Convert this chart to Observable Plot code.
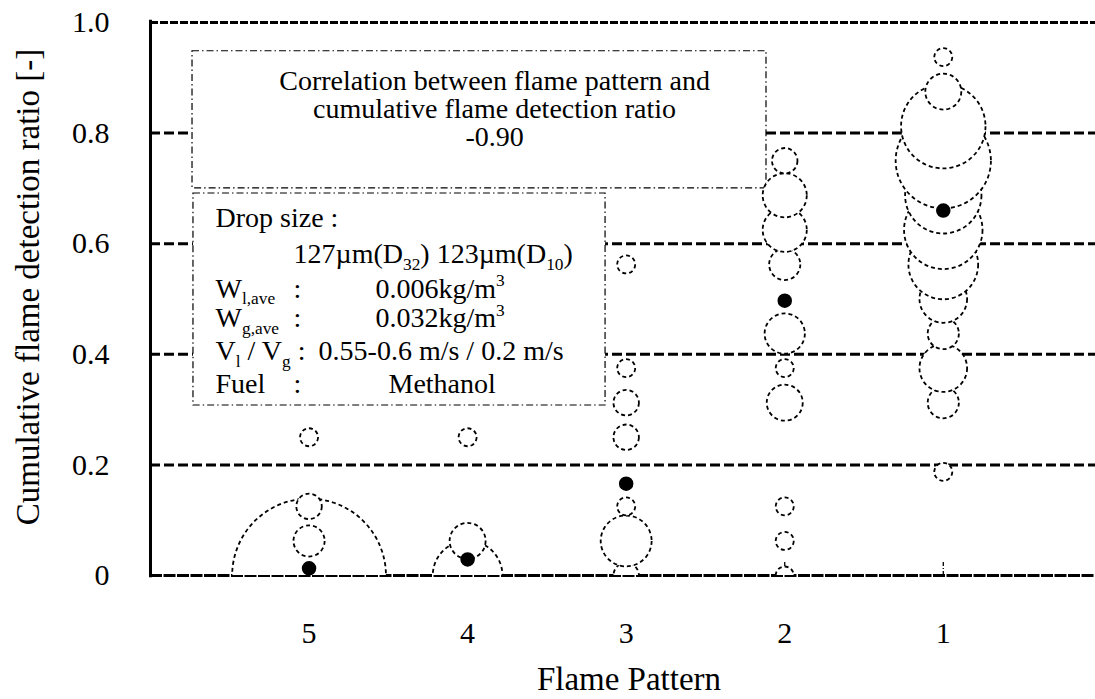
<!DOCTYPE html>
<html><head><meta charset="utf-8">
<script src="https://cdn.jsdelivr.net/npm/d3@7"></script>
<script src="https://cdn.jsdelivr.net/npm/@observablehq/plot@0.6"></script>
<style>
html,body{margin:0;padding:0;background:#fff;}
#chart{width:1095px;height:699px;overflow:hidden;}
#chart svg, #chart svg text, #chart svg tspan { font-family: "Liberation Serif", "Times New Roman", serif !important; }
</style></head><body><div id="chart"></div>
<script>
// ---- data ----
const patterns = [5, 4, 3, 2, 1];
const yTicks = [0, 0.2, 0.4, 0.6, 0.8, 1.0];
const gridLevels = [0.2, 0.4, 0.6, 0.8];

// bubbles: flame pattern, cumulative ratio, number of observations
const bubblePattern = [
  5, 5, 5, 5,
  4, 4, 4,
  3, 3, 3, 3, 3, 3, 3,
  2, 2, 2, 2, 2, 2, 2, 2, 2, 2,
  1, 1, 1, 1, 1, 1, 1, 1, 1, 1, 1, 1
];
const bubbleRatio = [
  0, 0.0625, 0.125, 0.25,
  0, 0.0625, 0.25,
  0, 0.0625, 0.125, 0.25, 0.3125, 0.375, 0.5625,
  0, 0.0625, 0.125, 0.3125, 0.375, 0.4375, 0.5625, 0.625, 0.6875, 0.75,
  0.1875, 0.3125, 0.375, 0.4375, 0.5, 0.5625, 0.625, 0.6875, 0.75, 0.8125, 0.875, 0.9375
];
const bubbleCount = [
  73, 3, 2, 1,
  15, 4, 1,
  2, 8, 1, 2, 2, 1, 1,
  1, 1, 1, 4, 1, 5, 3, 6, 6, 2,
  1, 3, 7, 3, 7, 15, 19, 18, 28, 22, 4, 1
];
// mean (filled) points
const meanPattern = [5, 4, 3, 2, 1];
const meanRatio = [0.013, 0.029, 0.166, 0.497, 0.66];

const correlationLines = ["Correlation between flame pattern and", "cumulative flame detection ratio", "-0.90"];
const conditionNames = ["Drop size :", "W_{l,ave}", "W_{g,ave}", "V_{l} / V_{g} :", "Fuel"];
const conditionColons = [":", ":", ":"];
const conditionValues = ["127\u00b5m(D_{32}) 123\u00b5m(D_{10})", "0.006kg/m^{3}", "0.032kg/m^{3}", "0.55-0.6 m/s / 0.2 m/s", "Methanol"];
const xTitle = "Flame Pattern";
const yTitle = "Cumulative flame detection ratio [-]";

const bubbles = bubblePattern.map((p, i) => ({pattern: p, ratio: bubbleRatio[i], count: bubbleCount[i]}));
const means = meanPattern.map((p, i) => ({pattern: p, ratio: meanRatio[i]}));

const FONT = "Liberation Serif";
const boxStyle = {fill: "white", stroke: "black", strokeWidth: 1.2, strokeDasharray: "7,3,1.5,3"};
const t = (s, x, y, anchor = "start") =>
  Plot.text([s], {x, y, text: d => d, textAnchor: anchor, lineAnchor: "bottom", fontSize: 28, fontFamily: FONT, fill: "black"});

const plot = Plot.plot({
  width: 1095,
  height: 699,
  marginLeft: 150,
  marginRight: 0,
  marginTop: 22,
  marginBottom: 124,
  style: {fontFamily: FONT, background: "white", color: "black", overflow: "visible"},
  x: {domain: [6, 0.04], axis: null},
  y: {domain: [0, 1], axis: null},
  r: {type: "sqrt", domain: [0, 100], range: [0, 90]},
  marks: [
    Plot.ruleY(gridLevels, {stroke: "black", strokeWidth: 3, strokeDasharray: "10,4"}),
    Plot.ruleY([1], {stroke: "black", strokeWidth: 3, strokeDasharray: "8,2"}),
    Plot.ruleY([0], {stroke: "black", strokeWidth: 3, strokeDasharray: "12,1.5"}),
    Plot.ruleX([6], {y1: -0.004, y2: 1.004, stroke: "black", strokeWidth: 3}),
    Plot.ruleX(patterns, {y1: 0, y2: 0.026, stroke: "black", strokeWidth: 1.3, strokeDasharray: "4,2,1,2"}),
    // annotation boxes
    Plot.rect([0], {x1: 5.735, x2: 2.115, y1: 0.70, y2: 0.948, ...boxStyle}),
    Plot.rect([0], {x1: 5.729, x2: 3.13, y1: 0.3074, y2: 0.6908, ...boxStyle}),
    // bubbles
    Plot.dot(bubbles, {x: "pattern", y: "ratio", r: "count", fill: "white", stroke: "black",
      strokeWidth: 1.8, strokeDasharray: "4,3", clip: true, sort: null}),
    Plot.dot(means, {x: "pattern", y: "ratio", r: 6.5, fill: "black", stroke: "black"}),
    // correlation box text
    Plot.text([correlationLines.join("\n")], {x: 3.83, y: 0.7758, text: d => d, textAnchor: "middle",
      lineAnchor: "bottom", lineHeight: 1.0, fontSize: 28, fontFamily: FONT, fill: "black"}),
    // conditions box text
    t(conditionNames[0], 5.59, 0.6293),
    t(conditionValues[0], 5.098, 0.5642),
    t(conditionNames[1], 5.59, 0.5027),
    t(conditionColons[0], 5.098, 0.5027),
    t(conditionValues[1], 4.581, 0.5027),
    t(conditionNames[2], 5.59, 0.4485),
    t(conditionColons[1], 5.098, 0.4485),
    t(conditionValues[2], 4.581, 0.4485),
    t(conditionNames[3], 5.59, 0.3888),
    t(conditionValues[3], 4.94, 0.3888),
    t(conditionNames[4], 5.59, 0.3309),
    t(conditionColons[2], 5.098, 0.3309),
    t(conditionValues[4], 4.499, 0.3309),
    // axes
    Plot.axisY(yTicks, {anchor: "left", tickSize: 0, tickPadding: 41, fontSize: 30, fontFamily: FONT, label: null,
      tickFormat: d => d === 0 ? "0" : d.toFixed(1)}),
    Plot.axisX(patterns, {anchor: "bottom", tickSize: 0, tickPadding: 46, fontSize: 30, fontFamily: FONT, label: null,
      tickFormat: d => String(d)}),
    Plot.text([xTitle], {frameAnchor: "bottom", text: d => d, textAnchor: "middle", dx: 6, dy: 114,
      fontSize: 33, fontFamily: FONT, fill: "black"}),
    Plot.text([yTitle], {frameAnchor: "left", text: d => d, textAnchor: "middle", rotate: -90,
      dx: -122, dy: -12, fontSize: 33, fontFamily: FONT, fill: "black"})
  ]
});

// sub/superscripts in the condition box
function richify(el) {
  const s = el.textContent;
  if (!/[_^]\{/.test(s)) return;
  const fs = 28;
  const parts = s.split(/([_^]\{[^}]*\})/).filter(p => p.length);
  while (el.firstChild) el.removeChild(el.firstChild);
  let shift = 0;
  for (const p of parts) {
    const ts = document.createElementNS("http://www.w3.org/2000/svg", "tspan");
    let target = 0;
    if (p.startsWith("_{")) { target = 0.22 * fs; ts.setAttribute("font-size", 0.62 * fs); ts.textContent = p.slice(2, -1); }
    else if (p.startsWith("^{")) { target = -0.42 * fs; ts.setAttribute("font-size", 0.62 * fs); ts.textContent = p.slice(2, -1); }
    else { ts.textContent = p; }
    ts.setAttribute("dy", (target - shift).toFixed(2));
    shift = target;
    el.appendChild(ts);
  }
}
plot.querySelectorAll("text").forEach(richify);
document.getElementById("chart").appendChild(plot);
</script></body></html>
